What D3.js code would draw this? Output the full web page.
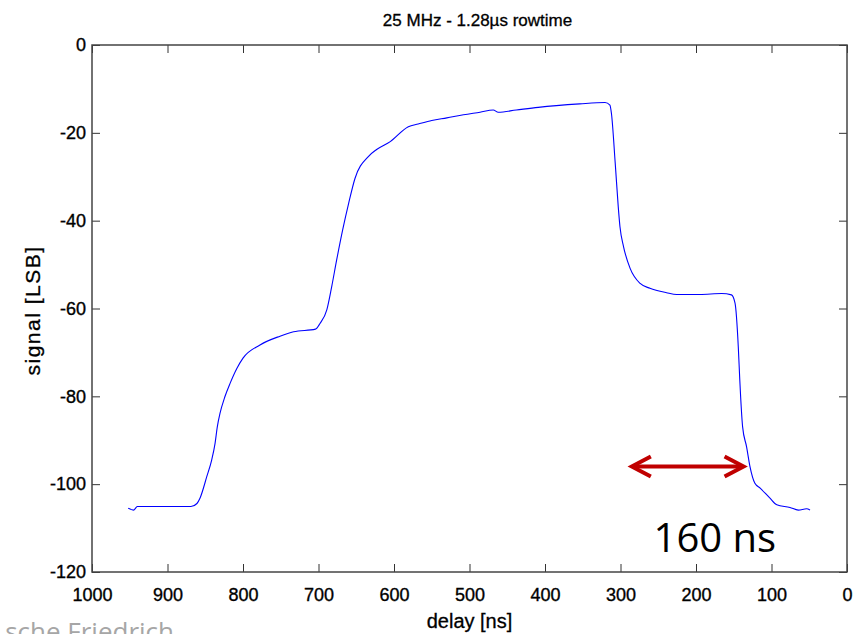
<!DOCTYPE html>
<html>
<head>
<meta charset="utf-8">
<script src="https://cdn.jsdelivr.net/npm/d3@7"></script>
<style>
  body { margin: 0; background: #fff; }
  svg { display: block; }
  .tick text { font-family: "Liberation Sans", Arial, sans-serif; font-size: 18px; fill: #000; stroke: #000; stroke-width: 0.35px; }
  .tick line { stroke: #333; }
  .lbl { font-family: "Liberation Sans", Arial, sans-serif; fill: #000; stroke: #000; stroke-width: 0.3px; }
</style>
</head>
<body>
<script>
let width = 854, height = 634;
let margin = {top: 45, right: 7, bottom: 62, left: 92};

// delay [ns] and signal [LSB]
let delay = [952, 945, 940, 900, 869, 861, 857, 848, 841.5, 837, 834, 830.5, 824, 817, 808, 800, 777.5, 751, 733, 704, 698, 689, 682.5, 676, 668, 660, 651.7, 634, 623, 605, 581, 568, 550, 530, 508, 486, 468.5, 462, 438, 409, 385, 354, 320.5, 314, 312, 307, 303, 300.7, 296, 287.4, 274, 261, 239, 225.5, 195, 166, 153, 148.3, 144, 142, 138.3, 133, 128.5, 122, 115, 102, 93, 75.5, 64.5, 53.5, 49];
let signal = [-105.5, -105.9, -105.1, -105.1, -105.1, -104.4, -103.2, -98.3, -94.5, -90.7, -86.9, -83.9, -80.1, -77.0, -73.6, -71.3, -68.3, -66.3, -65.3, -64.7, -63.4, -60.3, -55.0, -49.0, -42.1, -36.0, -30.4, -25.4, -23.8, -22.0, -18.6, -18.0, -17.2, -16.6, -15.9, -15.3, -14.8, -15.3, -14.8, -14.2, -13.8, -13.4, -13.1, -13.7, -15.6, -26.9, -36.8, -41.4, -45.9, -50.8, -54.3, -55.4, -56.4, -56.8, -56.8, -56.6, -56.9, -58.8, -68.7, -76.3, -86.9, -91.5, -96.0, -99.8, -100.9, -103.2, -104.7, -105.3, -105.9, -105.6, -105.9];

let xTicks = [1000, 900, 800, 700, 600, 500, 400, 300, 200, 100, 0];
let yTicks = [0, -20, -40, -60, -80, -100, -120];

// annotation: arrow span and label
let arrowSpan = [285, 137];
let arrowLevel = -96;
let noteText = "160 ns";

let svg = d3.select("body").append("svg")
    .attr("width", width)
    .attr("height", height);

let x = d3.scaleLinear().domain([1000, 0]).range([margin.left, width - margin.right]);
let y = d3.scaleLinear().domain([-120, 0]).range([height - margin.bottom, margin.top]);

let plain = d => String(d);

// axes, MATLAB style with ticks pointing inside
svg.append("g")
    .attr("transform", "translate(0," + y(-120) + ")")
    .call(d3.axisBottom(x).tickValues(xTicks).tickSize(-8).tickSizeOuter(0).tickPadding(16).tickFormat(plain))
    .call(g => g.select(".domain").remove());
svg.append("g")
    .attr("transform", "translate(0," + y(0) + ")")
    .call(d3.axisTop(x).tickValues(xTicks).tickSize(-8).tickSizeOuter(0).tickFormat(""))
    .call(g => g.select(".domain").remove());
svg.append("g")
    .attr("transform", "translate(" + x(1000) + ",0)")
    .call(d3.axisLeft(y).tickValues(yTicks).tickSize(-8).tickSizeOuter(0).tickPadding(6).tickFormat(plain))
    .call(g => g.select(".domain").remove());
svg.append("g")
    .attr("transform", "translate(" + x(0) + ",0)")
    .call(d3.axisRight(y).tickValues(yTicks).tickSize(-8).tickSizeOuter(0).tickFormat(""))
    .call(g => g.select(".domain").remove());

svg.append("rect")
    .attr("x", x(1000)).attr("y", y(0))
    .attr("width", x(0) - x(1000)).attr("height", y(-120) - y(0))
    .attr("fill", "none").attr("stroke", "#444").attr("stroke-width", 1.5);

let pts = delay.map((d, i) => [d, signal[i]]);
svg.append("path")
    .datum(pts)
    .attr("fill", "none")
    .attr("stroke", "#0000ff")
    .attr("stroke-width", 1.1)
    .attr("d", d3.line().x(d => x(d[0])).y(d => y(d[1])).curve(d3.curveMonotoneX));

// titles
svg.append("text")
    .attr("class", "lbl")
    .attr("x", (x(1000) + x(0)) / 2 + 8).attr("y", 26)
    .attr("text-anchor", "middle")
    .style("font-size", "17px")
    .text("25 MHz - 1.28\u00b5s rowtime");
svg.append("text")
    .attr("class", "lbl")
    .attr("x", (x(1000) + x(0)) / 2).attr("y", 628)
    .attr("text-anchor", "middle")
    .style("font-size", "20px")
    .text("delay [ns]");
svg.append("text")
    .attr("class", "lbl")
    .attr("transform", "translate(40," + (y(-60) + 2) + ") rotate(-90)")
    .attr("text-anchor", "middle")
    .style("font-size", "21px")
    .style("letter-spacing", "1.5px")
    .text("signal [LSB]");

// red double arrow
let ax0 = x(arrowSpan[0]), ax1 = x(arrowSpan[1]), ay = y(arrowLevel);
let red = "#c00000";
svg.append("line")
    .attr("x1", ax0 + 2).attr("x2", ax1 - 2).attr("y1", ay).attr("y2", ay)
    .attr("stroke", red).attr("stroke-width", 4);
svg.append("path")
    .attr("d", "M" + (ax0 + 19) + "," + (ay - 10) + "L" + ax0 + "," + ay + "L" + (ax0 + 19) + "," + (ay + 10))
    .attr("fill", "none").attr("stroke", red).attr("stroke-width", 4);
svg.append("path")
    .attr("d", "M" + (ax1 - 19) + "," + (ay - 10) + "L" + ax1 + "," + ay + "L" + (ax1 - 19) + "," + (ay + 10))
    .attr("fill", "none").attr("stroke", red).attr("stroke-width", 4);

svg.append("text")
    .attr("x", x(175)).attr("y", y(-115.4))
    .attr("text-anchor", "middle")
    .style("font-family", "Open Sans, sans-serif").style("font-size", "40px")
    .text(noteText);

// slide footer, cut off at the edge
svg.append("text")
    .attr("x", 174).attr("y", 641)
    .attr("text-anchor", "end")
    .attr("fill", "#a6a6a6")
    .style("font-family", "Open Sans, sans-serif").style("font-size", "26px")
    .text("sche Friedrich");
</script>
</body>
</html>
